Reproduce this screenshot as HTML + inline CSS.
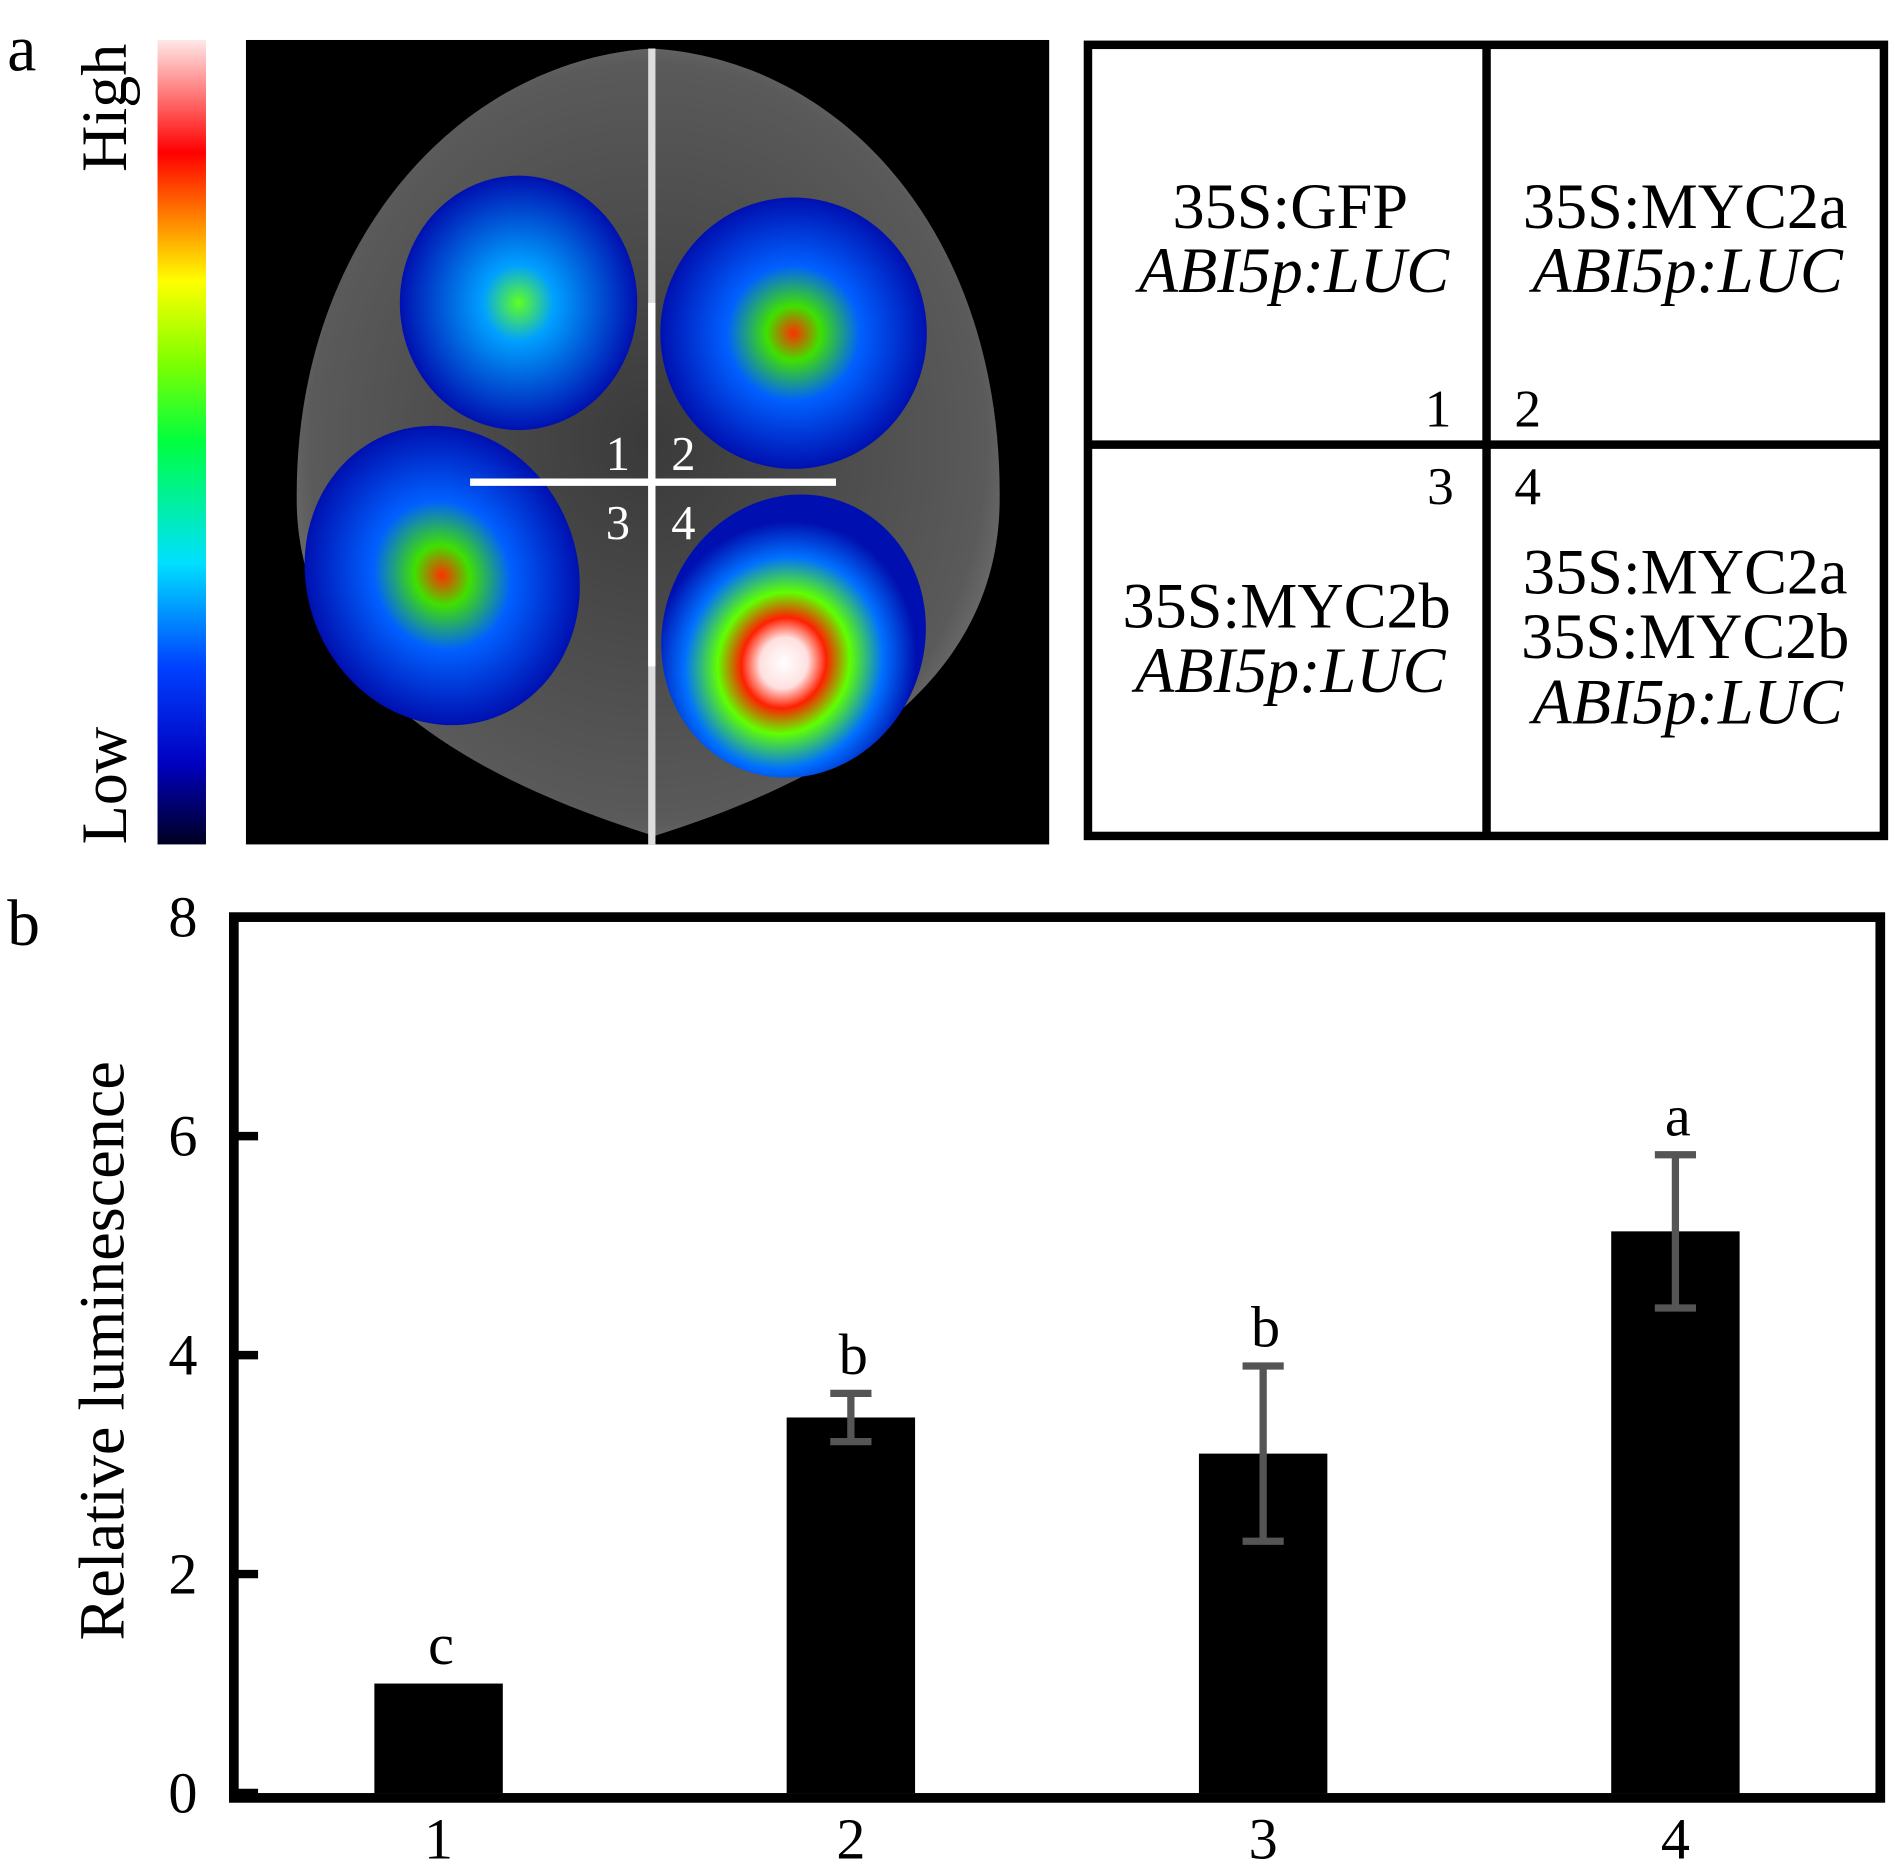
<!DOCTYPE html>
<html><head><meta charset="utf-8"><style>
html,body{margin:0;padding:0;background:#fff;}
svg{display:block;font-family:"Liberation Serif",serif;}
</style></head><body>
<svg id="fig" width="1890" height="1865" viewBox="0 0 1560 1539.4" xmlns="http://www.w3.org/2000/svg">
<defs>
<linearGradient id="cbar" x1="0" y1="1" x2="0" y2="0">
<stop offset="0" stop-color="#000020"/><stop offset="0.1" stop-color="#0000c0"/><stop offset="0.22" stop-color="#0040ff"/><stop offset="0.35" stop-color="#00e0ff"/><stop offset="0.5" stop-color="#00ff40"/><stop offset="0.6" stop-color="#80ff00"/><stop offset="0.7" stop-color="#ffff00"/><stop offset="0.78" stop-color="#ff8000"/><stop offset="0.86" stop-color="#ff0000"/><stop offset="1" stop-color="#ffe8e8"/>
</linearGradient>
<radialGradient id="leafg" cx="0.5" cy="0.5" r="0.6"><stop offset="0" stop-color="#3a3a3a"/><stop offset="0.8" stop-color="#5a5a5a"/><stop offset="1" stop-color="#888"/></radialGradient>
<radialGradient id="spotA"><stop offset="0" stop-color="#ff3000"/><stop offset="0.2" stop-color="#40e000"/><stop offset="0.5" stop-color="#0060ff"/><stop offset="1" stop-color="#0010b0"/></radialGradient>
<radialGradient id="spotB" cx="0.5" cy="0.6"><stop offset="0" stop-color="#ffffff"/><stop offset="0.18" stop-color="#ffe0e0"/><stop offset="0.32" stop-color="#ff2000"/><stop offset="0.5" stop-color="#60ff00"/><stop offset="0.75" stop-color="#0070ff"/><stop offset="1" stop-color="#0010b0"/></radialGradient>
<radialGradient id="spotC"><stop offset="0" stop-color="#60ff20"/><stop offset="0.3" stop-color="#00a0ff"/><stop offset="1" stop-color="#0010b0"/></radialGradient>
</defs>
<text x="6" y="58" font-size="54">a</text>
<rect x="130" y="33" width="40" height="664" fill="url(#cbar)"/>
<text transform="translate(104,142) rotate(-90)" font-size="53">High</text>
<text transform="translate(104,697) rotate(-90)" font-size="53">Low</text>
<g>
<rect x="203" y="33" width="663" height="664" fill="#000"/>
<path d="M538 40 C700 50 830 200 825 420 C820 560 700 640 540 690 C380 640 250 560 245 420 C240 200 380 50 538 40 Z" fill="url(#leafg)"/>
<line x1="538" y1="40" x2="538" y2="697" stroke="#ddd" stroke-width="6"/>
<ellipse cx="428" cy="250" rx="98" ry="105" fill="url(#spotC)"/>
<ellipse cx="655" cy="275" rx="110" ry="112" fill="url(#spotA)"/>
<ellipse cx="365" cy="475" rx="112" ry="125" fill="url(#spotA)" transform="rotate(-20 365 475)"/>
<ellipse cx="655" cy="525" rx="108" ry="118" fill="url(#spotB)" transform="rotate(20 655 525)"/>
<line x1="388" y1="398" x2="690" y2="398" stroke="#fff" stroke-width="6"/>
<line x1="538" y1="250" x2="538" y2="550" stroke="#fff" stroke-width="6"/>
<g fill="#fff" font-size="40"><text x="500" y="388">1</text><text x="554" y="388">2</text><text x="500" y="445">3</text><text x="554" y="445">4</text></g>
</g>
<g>
<rect x="898" y="37" width="657" height="653" fill="none" stroke="#000" stroke-width="7"/>
<line x1="1227" y1="37" x2="1227" y2="690" stroke="#000" stroke-width="7"/>
<line x1="898" y1="367" x2="1555" y2="367" stroke="#000" stroke-width="7"/>
<g font-size="53" text-anchor="middle">
<text x="1065" y="188">35S:GFP</text><text x="1068" y="241" font-style="italic">ABI5p:LUC</text>
<text x="1391" y="188">35S:MYC2a</text><text x="1393" y="241" font-style="italic">ABI5p:LUC</text>
<text x="1062" y="518">35S:MYC2b</text><text x="1065" y="571" font-style="italic">ABI5p:LUC</text>
<text x="1391" y="490">35S:MYC2a</text><text x="1391" y="543">35S:MYC2b</text><text x="1393" y="597" font-style="italic">ABI5p:LUC</text>
</g>
<g font-size="44"><text x="1176" y="352">1</text><text x="1250" y="352">2</text><text x="1178" y="416">3</text><text x="1250" y="416">4</text></g>
</g>
<text x="6" y="780" font-size="54">b</text>
<g id="chart"></g>
</svg>
<script>
const categories=["1","2","3","4"];
const values=[1.0,3.43,3.1,5.13];
const errors=[0,0.22,0.8,0.7];
const letters=["c","b","b","a"];
const yTicks=[0,2,4,6,8];
const NS="http://www.w3.org/2000/svg";
const g=document.getElementById('chart');
const L=193,R=1552,T=757,B=1480;
function y(v){return B-(v/8)*(B-T);}
function mk(t,a){const e=document.createElementNS(NS,t);for(const k in a)e.setAttribute(k,a[k]);g.appendChild(e);return e;}
function cx(i){return 362+i*340.3;}
let fr=mk('rect',{x:L,y:T,width:R-L,height:B-T+4,fill:'none',stroke:'#000','stroke-width':8});


yTicks.forEach(v=>{
 let tk=mk('line',{x1:L,x2:L+20,y1:y(v),y2:y(v),stroke:'#000','stroke-width':7});
 
 
 let t=mk('text',{x:L-30,y:y(v)+16,'font-size':48,'text-anchor':'end'});t.textContent=v;
 
 
});
let yl=mk('text',{transform:'translate(102,1115) rotate(-90)','font-size':53,'text-anchor':'middle'});yl.textContent='Relative luminescence';


const bw=106;
categories.forEach((c,i)=>{
 const xc=cx(i);
 let b=mk('rect',{x:xc-bw/2,y:y(values[i]),width:bw,height:B-y(values[i]),fill:'#000'});
 
 
 let top=values[i]+errors[i];
 if(errors[i]>0){
  let e=mk('path',{d:`M${xc} ${y(top)}V${y(values[i]-errors[i])}M${xc-17} ${y(top)}H${xc+17}M${xc-17} ${y(values[i]-errors[i])}H${xc+17}`,stroke:'#555','stroke-width':6,fill:'none'});
  
  
 }
 let lt=mk('text',{x:xc+2,y:y(top)-16,'font-size':48,'text-anchor':'middle'});lt.textContent=letters[i];
 
 
 let xl=mk('text',{x:xc,y:1534,'font-size':48,'text-anchor':'middle'});xl.textContent=c;
 
 
});
</script>
</body></html>
